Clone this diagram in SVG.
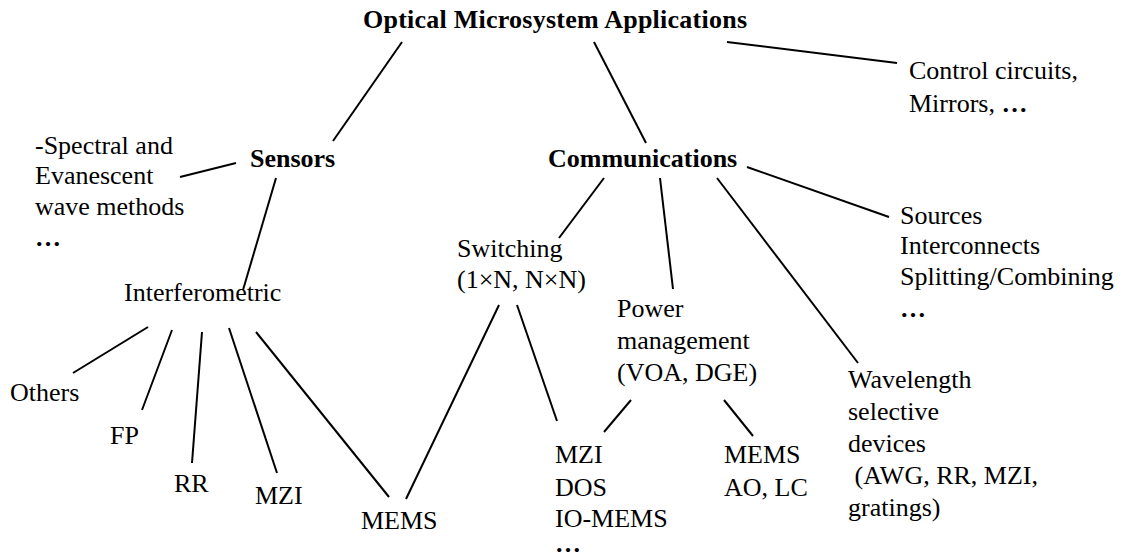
<svg xmlns="http://www.w3.org/2000/svg" width="1126" height="556" viewBox="0 0 1126 556">
<style>
text{font-family:"Liberation Serif","Times New Roman",serif;font-size:26px;fill:#000}
.b{font-weight:bold}
.c line{stroke:#000;stroke-width:2;stroke-linecap:butt}
</style>
<rect width="1126" height="556" fill="#fff"/>
<g class="c" id="connectors">
<line x1="402" y1="42" x2="333" y2="141"/>
<line x1="594" y1="42" x2="646" y2="143"/>
<line x1="727" y1="42" x2="897" y2="63"/>
<line x1="180" y1="177" x2="236" y2="163"/>
<line x1="276" y1="178" x2="243" y2="290"/>
<line x1="604" y1="178" x2="559" y2="238"/>
<line x1="660" y1="178" x2="673" y2="289"/>
<line x1="717" y1="178" x2="858" y2="363"/>
<line x1="747" y1="167" x2="889" y2="217"/>
<line x1="148" y1="327" x2="73" y2="373"/>
<line x1="172" y1="330" x2="142" y2="410"/>
<line x1="202" y1="332" x2="192" y2="463"/>
<line x1="229" y1="328" x2="277" y2="473"/>
<line x1="256" y1="332" x2="389" y2="497"/>
<line x1="499" y1="305" x2="406" y2="499"/>
<line x1="517" y1="305" x2="557" y2="421"/>
<line x1="631" y1="400" x2="604" y2="432"/>
<line x1="724" y1="400" x2="753" y2="436"/>
</g>
<g id="root"><text class="b" x="363" y="28" textLength="384" lengthAdjust="spacing">Optical Microsystem Applications</text></g>
<g id="control"><text x="909" y="79">Control circuits,</text><text x="909" y="112">Mirrors, <tspan class="b">…</tspan></text></g>
<g id="spectral"><text x="35" y="154">-Spectral and</text><text x="35" y="184">Evanescent</text><text x="35" y="215">wave methods</text><text class="b" x="35" y="246">…</text></g>
<g id="sensors"><text class="b" x="250" y="167">Sensors</text></g>
<g id="communications"><text class="b" x="548" y="167">Communications</text></g>
<g id="sources"><text x="900" y="224">Sources</text><text x="900" y="254">Interconnects</text><text x="900" y="285">Splitting/Combining</text><text class="b" x="900" y="317">…</text></g>
<g id="switching"><text x="457" y="257">Switching</text><text x="457" y="288">(1×N, N×N)</text></g>
<g id="power"><text x="617" y="317">Power</text><text x="617" y="349">management</text><text x="617" y="381">(VOA, DGE)</text></g>
<g id="wavelength"><text x="848" y="388">Wavelength</text><text x="848" y="420">selective</text><text x="848" y="452">devices</text><text x="848" y="484" xml:space="preserve"> (AWG, RR, MZI,</text><text x="848" y="516">gratings)</text></g>
<g id="interferometric"><text x="124" y="301">Interferometric</text></g>
<g id="others"><text x="10" y="401">Others</text></g>
<g id="fp"><text x="110" y="444">FP</text></g>
<g id="rr"><text x="174" y="492">RR</text></g>
<g id="mzi-s"><text x="255" y="504">MZI</text></g>
<g id="mems-s"><text x="361" y="529">MEMS</text></g>
<g id="switch-tech"><text x="555" y="463">MZI</text><text x="555" y="496">DOS</text><text x="555" y="527">IO-MEMS</text><text class="b" x="555" y="552">…</text></g>
<g id="power-tech"><text x="724" y="463">MEMS</text><text x="724" y="496">AO, LC</text></g>
</svg>
